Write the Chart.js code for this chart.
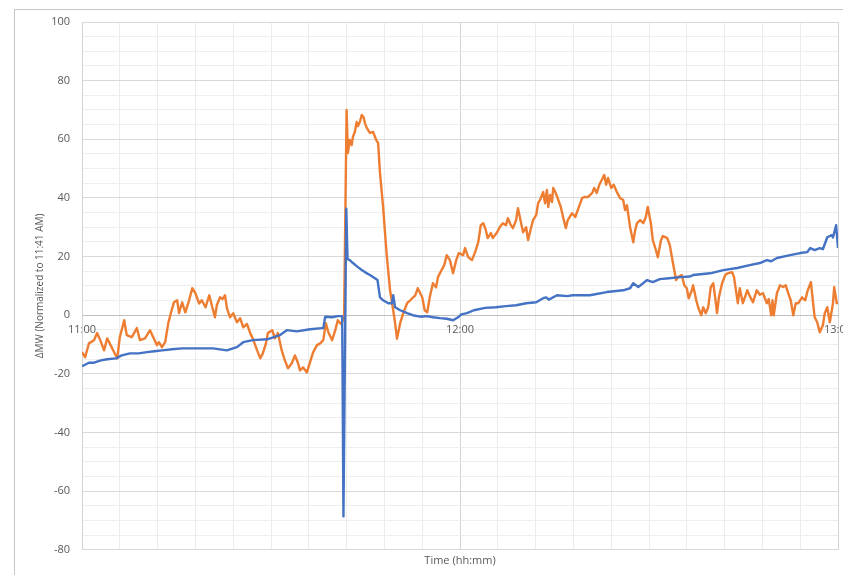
<!DOCTYPE html>
<html>
<head>
<meta charset="utf-8">
<script src="https://cdn.jsdelivr.net/npm/chart.js@4.4.1/dist/chart.umd.min.js"></script>
<style>
    body { margin: 0; background: #fff; overflow: hidden; }
    #frame { position: absolute; left: 14px; top: 9px; width: 900px; height: 700px; border: 1px solid #c6c6c6; }
    #chart { position: absolute; left: 0; top: 0; }
</style>
</head>
<body>
<div id="frame"></div>
<canvas id="chart" width="843" height="575"></canvas>
<script>
// minutes after 11:00
const orangeTime = [
    0, 0.5, 1.1, 1.9, 2.4, 2.9, 3.5, 4.0, 4.4, 5.1,
    5.6, 6.0, 6.7, 7.1, 7.9, 8.7, 9.2, 10.0, 10.8, 11.4,
    11.9, 12.2, 12.7, 13.2, 13.7, 14.1, 14.6, 15.1, 15.4, 15.9,
    16.4, 17.0, 17.5, 18.0, 18.6, 19.0, 19.6, 20.2, 20.6, 21.1,
    21.4, 21.9, 22.3, 22.7, 23.0, 23.5, 24.0, 24.6, 25.1, 25.6,
    26.2, 26.7, 27.1, 27.8, 28.3, 28.7, 29.2, 29.5, 30.2, 30.6,
    31.1, 31.7, 32.2, 32.7, 33.3, 33.8, 34.3, 34.6, 35.1, 35.7,
    36.2, 36.7, 37.3, 37.8, 38.3, 38.7, 39.1, 39.7, 40.2, 40.6,
    41.1, 41.6, 42.0, 42.2, 42.5, 42.8, 43.0, 43.3, 43.6, 43.8,
    44.1, 44.4, 44.7, 44.9, 45.2, 45.7, 46.2, 46.7, 47.0, 47.3,
    47.8, 48.1, 48.4, 48.9, 49.4, 49.7, 50.0, 50.5, 51.0, 51.6,
    52.1, 52.9, 53.3, 54.0, 54.4, 54.8, 55.2, 55.7, 56.2, 56.5,
    57.1, 57.5, 57.9, 58.4, 58.9, 59.4, 59.8, 60.5, 60.8, 61.3,
    61.9, 62.4, 62.9, 63.3, 63.7, 64.1, 64.4, 64.9, 65.2, 65.9,
    66.3, 66.8, 67.3, 67.6, 68.0, 68.4, 68.9, 69.2, 69.5, 70.0,
    70.5, 70.8, 71.3, 71.6, 72.1, 72.4, 72.7, 73.2, 73.5, 73.8,
    74.0, 74.3, 74.6, 74.8, 75.2, 75.6, 76.0, 76.4, 76.8, 77.1,
    77.8, 78.3, 78.7, 79.4, 79.8, 80.3, 81.0, 81.3, 81.7, 82.1,
    82.5, 82.9, 83.2, 83.5, 84.0, 84.4, 84.9, 85.4, 85.9, 86.2,
    86.5, 87.0, 87.5, 87.8, 88.1, 88.6, 89.1, 89.5, 89.8, 90.3,
    90.6, 91.1, 91.4, 91.9, 92.2, 92.9, 93.3, 93.8, 94.3, 94.6,
    95.2, 95.6, 96.0, 96.3, 96.8, 97.0, 97.5, 97.8, 98.3, 98.6,
    99.0, 99.4, 99.8, 100.2, 100.5, 100.8, 101.1, 101.6, 102.1, 102.5,
    103.2, 103.5, 103.8, 104.1, 104.4, 104.9, 105.6, 106.0, 106.5, 107.1,
    107.6, 108.1, 108.7, 109.0, 109.4, 109.6, 109.8, 110.3, 110.8, 111.3,
    111.7, 112.1, 112.5, 112.9, 113.3, 113.7, 114.3, 114.8, 115.2, 115.7,
    116.0, 116.3, 116.7, 117.1, 117.6, 117.9, 118.3, 118.7, 119.2, 119.4,
    119.8, 120.0
];
const orangeMW = [
    -12.6, -14.3, -9.6, -8.5, -6.1, -8.5, -12, -7.9, -9.6, -12.6,
    -14.7, -7.5, -1.7, -6.8, -7.5, -4.4, -8.5, -7.9, -5.1, -7.9,
    -10.2, -9.2, -10.9, -9.2, -2.7, 0.7, 4.4, 5.1, 0.7, 4.4,
    1.0, 5.1, 9.2, 7.5, 4.0, 5.1, 2.7, 6.8, 3.4, -0.7,
    3.4, 6.1, 5.5, 6.8, 2.4, -0.7, 0.7, -2.4, -1.0, -4.1,
    -3.0, -6.1, -7.9, -12, -14.7, -13, -9.6, -6.1, -5.1, -7.9,
    -6.1, -12, -15.4, -18.1, -16.4, -13.7, -16.4, -18.8, -17.8, -19.5,
    -16, -12.6, -10.2, -9.6, -8.5, -2.7, -5.8, -8.5, -5.1, -1.7,
    -3.0, -1.0, 70, 55.3, 59.8, 58, 60.8, 62.5, 65.9, 64.5,
    65.9, 68.3, 67.5, 65.6, 63.9, 62.2, 62.5, 59.8, 58.7, 48.5,
    36.9, 28, 19.8, 8.5, 1.7, -2.7, -8.0, -2.7, 0.7, 4.1,
    5.1, 6.8, 9.2, 6.1, 1.7, 1.0, 6.1, 10.9, 9.5, 13,
    15.5, 17.1, 20.5, 18.8, 14.3, 18.8, 21.2, 20.5, 22.9, 19.8,
    18.8, 21.5, 24.9, 30.7, 31.4, 29, 26.3, 28, 26.3, 28.3,
    30, 31.4, 30.7, 33.1, 31, 29.7, 32.4, 36.5, 33.5, 28.3,
    30, 25.6, 30, 32.4, 34.2, 38.2, 39.3, 42, 38.2, 42.7,
    36.9, 41, 38.6, 43.4, 41.7, 39.3, 36.9, 33.1, 29.7, 32.4,
    34.8, 33.5, 35.9, 40, 40.3, 40.3, 41.7, 43.4, 41.7, 44.4,
    46.1, 47.8, 44.5, 46.8, 43.4, 44.5, 42, 40, 39.3, 35.9,
    37.5, 30, 24.9, 29, 31.4, 32.4, 31.4, 33.5, 36.9, 31.4,
    25.6, 22.2, 19.8, 25.6, 27, 26.3, 23.9, 17.8, 12, 13,
    13.7, 10.2, 9.2, 5.8, 8.5, 10.2, 5.1, 2.7, 0, 2.7,
    0.7, 2.7, 9.6, 10.9, 6.1, 0.7, 6.1, 10.9, 13.7, 14.3,
    14.7, 13, 8.5, 4.1, 9.2, 4.1, 8.5, 6.5, 4.4, 8.5,
    7, 7.5, 4.1, 5.5, 0, 5.1, 0, 7.5, 10.2, 9.6,
    10.2, 7.5, 5.1, 0, 4.1, 4.1, 6.1, 5.1, 8.5, 11.3,
    5.1, -0.7, -2.4, -5.8, -3.4, 0.7, 2.7, -2.4, 4.1, 9.6,
    4.1, 4.5
];

const blueTime = [
    0, 1.1, 1.9, 3.0, 4.0,
    5.4, 6.3, 7.6, 9.0, 10.3,
    11.5, 12.7, 14.3, 15.9, 18.2,
    20.8, 23.0, 24.6, 25.6, 27.1,
    29.4, 31.4, 32.5, 34.1, 36.2,
    38.1, 38.3, 38.6, 39.7, 40.6,
    41.3, 41.5, 41.95, 42.15, 42.5,
    43.0, 43.8, 44.4, 44.9, 45.7,
    46.5, 46.9, 47.3, 47.8, 48.6,
    49.2, 49.4, 49.7, 50.5, 51.6,
    52.5, 53.7, 54.8, 55.7, 56.8,
    57.9, 58.9, 59.7, 60.2, 61.1,
    62.2, 64.0, 65.7, 67.3, 68.9,
    70.5, 72.1, 73.2, 73.7, 74.1,
    75.4, 77.0, 77.9, 80.6, 83.3,
    85.9, 87.0, 87.5, 88.3, 89.7,
    90.6, 91.7, 93.2, 94.9, 96.5,
    97.0, 99.7, 101.8, 104.0, 106.0,
    107.6, 108.7, 109.4, 110.3, 112.4,
    114.0, 115.1, 115.6, 116.3, 117.1,
    117.6, 118.3, 119.0, 119.2, 119.7,
    120
];
const blueMW = [
    -17.4, -16.2, -16.2, -15.4, -15.0,
    -14.7, -13.7, -13.0, -13.0, -12.6,
    -12.3, -12.0, -11.6, -11.3, -11.3,
    -11.3, -12.0, -10.9, -9.2, -8.5,
    -8.2, -6.8, -5.1, -5.5, -4.8,
    -4.4, -4.4, -0.5, -0.7, -0.3,
    -0.3, -68.6, 36.3, 19.1, 18.8,
    17.8, 16.4, 15.4, 14.7, 13.7,
    12.6, 12.0, 6.1, 5.1, 4.1,
    4.1, 6.8, 2.7, 1.7, 0.7,
    0, -0.5, -0.3, -0.7, -1.0,
    -1.2, -1.7, -0.7, 0.3, 0.7,
    1.7, 2.5, 2.7, 3.1, 3.4,
    4.1, 4.4, 5.8, 6.1, 5.3,
    6.8, 6.5, 6.8, 6.8, 7.9,
    8.5, 9.2, 10.9, 9.6, 12,
    11.3, 12.3, 12.6, 13, 13.2,
    13.7, 14.3, 15.4, 16.1, 17.1,
    17.8, 18.8, 18.4, 19.5, 20.5,
    21.2, 21.5, 22.9, 22.2, 22.9,
    22.5, 26.6, 27.3, 26.5, 30.7,
    22.9
];

const xTickLabels = ['11:00', '12:00', '13:00'];   // every 60 min
const yMin = -80, yMax = 100;

const textGrey = '#595959';
const fontFamily = '"Open Sans", "Noto Sans", sans-serif';
const font = { family: fontFamily, size: 11 };

const toPoints = (times, vals) => times.map((t, i) => ({ x: t, y: vals[i] }));

new Chart(document.getElementById('chart'), {
    type: 'line',
    data: {
        datasets: [
            {
                label: 'Blue',
                data: toPoints(blueTime, blueMW),
                borderColor: '#4472C4',
                borderWidth: 2.4,
                borderJoinStyle: 'round',
                pointRadius: 0,
                tension: 0
            },
            {
                label: 'Orange',
                data: toPoints(orangeTime, orangeMW),
                borderColor: '#ED7D31',
                borderWidth: 2.4,
                borderJoinStyle: 'round',
                pointRadius: 0,
                tension: 0
            }
        ]
    },
    options: {
        responsive: false,
        animation: false,
        layout: { padding: { left: 14, top: 22, right: 5, bottom: 0 } },
        plugins: {
            legend: { display: false },
            tooltip: { enabled: false },
            title: {
                display: true,
                position: 'bottom',
                fullSize: false,
                text: 'Time (hh:mm)',
                color: textGrey,
                font: { ...font, weight: 'normal' },
                padding: { top: 4, bottom: 8 }
            }
        },
        scales: {
            x: {
                type: 'linear',
                position: { y: 0 },
                min: 0,
                max: 120,
                afterFit: (s) => { s.paddingLeft = 0; s.paddingRight = 0; },
                grid: {
                    drawTicks: false,
                    color: (c) => c.tick.value % 60 === 0 ? '#d4d4d4' : '#ececec'
                },
                border: { display: true, color: '#bfbfbf', width: 1 },
                ticks: {
                    stepSize: 6,
                    autoSkip: false,
                    maxRotation: 0,
                    padding: 8,
                    color: textGrey,
                    font: font,
                    callback: (v) => v % 60 === 0 ? xTickLabels[v / 60] : ''
                }
            },
            y: {
                min: yMin,
                max: yMax,
                afterFit: (s) => { s.width = 68; },
                grid: {
                    drawTicks: false,
                    color: (c) => c.tick.value % 20 === 0 ? '#d9d9d9' : '#eeeeee'
                },
                border: { display: true, color: '#d4d4d4' },
                ticks: {
                    stepSize: 5,
                    autoSkip: false,
                    padding: 12,
                    color: textGrey,
                    font: font,
                    callback: (v) => v % 20 === 0 ? String(v) : ''
                },
                title: {
                    display: true,
                    text: 'ΔMW (Normalized to 11:41 AM)',
                    color: textGrey,
                    font: { family: fontFamily, size: 10 },
                    padding: { top: 20, bottom: 0 }
                }
            }
        }
    }
});
</script>
</body>
</html>
